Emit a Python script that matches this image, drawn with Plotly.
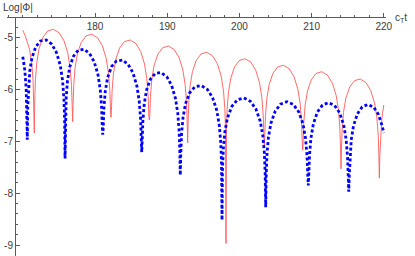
import plotly.graph_objects as go

# ---- data ----
red_t = [170.00, 170.40, 170.93, 171.25, 171.43, 171.52, 171.59,
 171.656, 171.749, 171.935, 172.254, 172.785, 173.448, 174.245, 175.042, 175.705, 176.236, 176.555, 176.741, 176.834, 176.90,
 176.966, 177.059, 177.245, 177.564, 178.095, 178.758, 179.555, 180.352, 181.015, 181.546, 181.865, 182.051, 182.144, 182.21,
 182.276, 182.369, 182.555, 182.874, 183.405, 184.068, 184.865, 185.662, 186.325, 186.856, 187.175, 187.361, 187.454, 187.52,
 187.586, 187.679, 187.865, 188.184, 188.715, 189.378, 190.175, 190.972, 191.635, 192.166, 192.485, 192.671, 192.764, 192.83,
 192.896, 192.989, 193.175, 193.494, 194.025, 194.688, 195.485, 196.282, 196.945, 197.476, 197.795, 197.981, 198.074, 198.14,
 198.206, 198.299, 198.485, 198.804, 199.335, 199.998, 200.795, 201.592, 202.255, 202.786, 203.105, 203.291, 203.384, 203.45,
 203.516, 203.609, 203.795, 204.114, 204.645, 205.308, 206.105, 206.902, 207.565, 208.096, 208.415, 208.601, 208.694, 208.76,
 208.826, 208.919, 209.105, 209.424, 209.955, 210.618, 211.415, 212.212, 212.875, 213.406, 213.725, 213.911, 214.004, 214.07,
 214.136, 214.229, 214.415, 214.734, 215.265, 215.928, 216.725, 217.522, 218.185, 218.716, 219.035, 219.221, 219.314, 219.38,
 219.446, 219.539, 219.725, 220.00]

red_log = [-4.86, -4.99, -5.23, -5.51, -5.85, -6.23, -6.84,
 -6.189, -5.813, -5.483, -5.214, -4.997, -4.874, -4.842, -4.910, -5.063, -5.304, -5.587, -5.925, -6.307, -6.62,
 -6.285, -5.909, -5.579, -5.310, -5.093, -4.970, -4.938, -5.006, -5.159, -5.400, -5.683, -6.021, -6.403, -6.54,
 -6.395, -6.019, -5.689, -5.420, -5.203, -5.080, -5.048, -5.116, -5.269, -5.510, -5.793, -6.131, -6.513, -6.59,
 -6.511, -6.135, -5.805, -5.536, -5.319, -5.196, -5.164, -5.232, -5.385, -5.626, -5.909, -6.247, -6.629, -7.03,
 -6.632, -6.256, -5.926, -5.657, -5.440, -5.317, -5.285, -5.353, -5.506, -5.747, -6.030, -6.368, -6.750, -8.97,
 -6.757, -6.381, -6.051, -5.782, -5.565, -5.442, -5.410, -5.478, -5.631, -5.872, -6.155, -6.493, -6.875, -7.09,
 -6.882, -6.506, -6.176, -5.907, -5.690, -5.567, -5.535, -5.603, -5.756, -5.997, -6.280, -6.618, -7.000, -7.17,
 -7.007, -6.631, -6.301, -6.032, -5.815, -5.692, -5.660, -5.728, -5.881, -6.122, -6.405, -6.743, -7.125, -7.53,
 -7.147, -6.771, -6.441, -6.172, -5.955, -5.832, -5.800, -5.868, -6.021, -6.262, -6.545, -6.883, -7.265, -7.71,
 -7.267, -6.891, -6.561, -6.30]

blue_t = [170.00, 170.280, 170.463, 170.555, 170.62,
 170.685, 170.777, 170.960, 171.274, 171.797, 172.450, 173.235, 174.020, 174.673, 175.196, 175.510, 175.693, 175.785, 175.85,
 175.915, 176.007, 176.189, 176.502, 177.024, 177.677, 178.460, 179.243, 179.896, 180.418, 180.731, 180.913, 181.005, 181.07,
 181.137, 181.232, 181.421, 181.745, 182.285, 182.960, 183.770, 184.580, 185.255, 185.795, 186.119, 186.308, 186.403, 186.47,
 186.537, 186.630, 186.817, 187.137, 187.671, 188.339, 189.140, 189.941, 190.609, 191.143, 191.463, 191.650, 191.743, 191.81,
 191.878, 191.983, 192.186, 192.532, 193.110, 193.833, 194.700, 195.567, 196.290, 196.868, 197.214, 197.417, 197.518, 197.59,
 197.656, 197.771, 197.983, 198.346, 198.951, 199.707, 200.615, 201.523, 202.279, 202.884, 203.247, 203.459, 203.564, 203.64,
 203.714, 203.817, 204.023, 204.377, 204.967, 205.705, 206.590, 207.475, 208.213, 208.803, 209.157, 209.363, 209.466, 209.54,
 209.610, 209.708, 209.904, 210.240, 210.800, 211.500, 212.340, 213.180, 213.880, 214.440, 214.776, 214.972, 215.070, 215.14,
 215.206, 215.300, 215.486, 215.805, 216.337, 217.002, 217.800, 218.598, 219.263, 219.795, 220.00]

blue_log = [-5.37, -5.634, -5.975, -6.358, -6.97,
 -6.352, -5.977, -5.650, -5.387, -5.178, -5.067, -5.048, -5.129, -5.294, -5.543, -5.832, -6.173, -6.556, -7.33,
 -6.531, -6.156, -5.829, -5.566, -5.358, -5.246, -5.227, -5.308, -5.472, -5.722, -6.011, -6.352, -6.735, -6.87,
 -6.735, -6.359, -6.033, -5.770, -5.563, -5.452, -5.434, -5.516, -5.681, -5.932, -6.221, -6.563, -6.945, -7.21,
 -6.977, -6.602, -6.275, -6.012, -5.804, -5.693, -5.675, -5.757, -5.922, -6.172, -6.461, -6.802, -7.185, -7.655,
 -7.246, -6.870, -6.543, -6.277, -6.065, -5.949, -5.925, -6.001, -6.161, -6.407, -6.693, -7.034, -7.416, -8.52,
 -7.527, -7.149, -6.819, -6.548, -6.328, -6.201, -6.165, -6.229, -6.378, -6.616, -6.897, -7.235, -7.615, -8.27,
 -7.629, -7.250, -6.917, -6.643, -6.417, -6.283, -6.237, -6.291, -6.433, -6.665, -6.943, -7.278, -7.657, -7.85,
 -7.648, -7.270, -6.937, -6.662, -6.436, -6.302, -6.256, -6.310, -6.452, -6.684, -6.961, -7.296, -7.676, -7.97,
 -7.683, -7.304, -6.971, -6.697, -6.471, -6.336, -6.290, -6.344, -6.485, -6.717, -6.84]

x_tick_vals = [180, 190, 200, 210, 220]
x_tick_text = ["180", "190", "200", "210", "220"]
y_tick_vals = [-9, -8, -7, -6, -5]
y_tick_text = ["-9", "-8", "-7", "-6", "-5"]
y_title = "Log|Φ|"
x_title = "c<sub>T</sub>t"

AXIS = "#5a5a5a"
TXT = "#3a3a3a"
FONT = "Liberation Sans"

fig = go.Figure()
fig.add_trace(go.Scatter(x=red_t, y=red_log, mode="lines",
                         line=dict(color="#ff5a5a", width=0.9),
                         showlegend=False, hoverinfo="skip"))
fig.add_trace(go.Scatter(x=blue_t, y=blue_log, mode="lines",
                         line=dict(color="#0000ff", width=2.8, dash="3px,2.4px"),
                         showlegend=False, hoverinfo="skip"))

fig.update_layout(
    width=415, height=256,
    margin=dict(l=7, r=29, t=17, b=0, autoexpand=False),
    paper_bgcolor="white", plot_bgcolor="white",
    font=dict(family=FONT, size=10, color=TXT),
    xaxis=dict(range=[167.81, 220.30], side="bottom", anchor="free", position=1.0,
               showline=True, linecolor=AXIS, linewidth=1,
               ticks="inside", ticklen=4, tickcolor=AXIS, tickwidth=1,
               tickmode="array", tickvals=x_tick_vals, ticktext=x_tick_text,
               tickfont=dict(family=FONT, size=10, color=TXT),
               showgrid=False, zeroline=False, automargin=False,
               minor=dict(tickmode="linear", tick0=0, dtick=2, ticks="inside",
                          ticklen=2.5, tickcolor=AXIS, showgrid=False)),
    yaxis=dict(range=[-9.21, -4.605], anchor="free", position=0.0211,
               showline=True, linecolor=AXIS, linewidth=1,
               ticks="inside", ticklen=4, tickcolor=AXIS, tickwidth=1,
               tickmode="array", tickvals=y_tick_vals, ticktext=y_tick_text,
               tickfont=dict(family=FONT, size=10, color=TXT),
               showgrid=False, zeroline=False, automargin=False,
               minor=dict(tickmode="linear", tick0=0, dtick=0.2, ticks="inside",
                          ticklen=2.5, tickcolor=AXIS, showgrid=False)),
    annotations=[
        dict(text=y_title, xref="paper", yref="paper", x=-0.0158, y=1.0418,
             xanchor="left", yanchor="middle", showarrow=False,
             font=dict(family=FONT, size=10, color=TXT)),
        dict(text=x_title, xref="paper", yref="paper", x=1.0185, y=0.996,
             xanchor="left", yanchor="middle", showarrow=False,
             font=dict(family=FONT, size=10, color=TXT)),
    ],
)

fig.write_html("out.html", config={"displayModeBar": False},
               post_script="document.body.style.margin='0';document.body.style.overflow='hidden';")
